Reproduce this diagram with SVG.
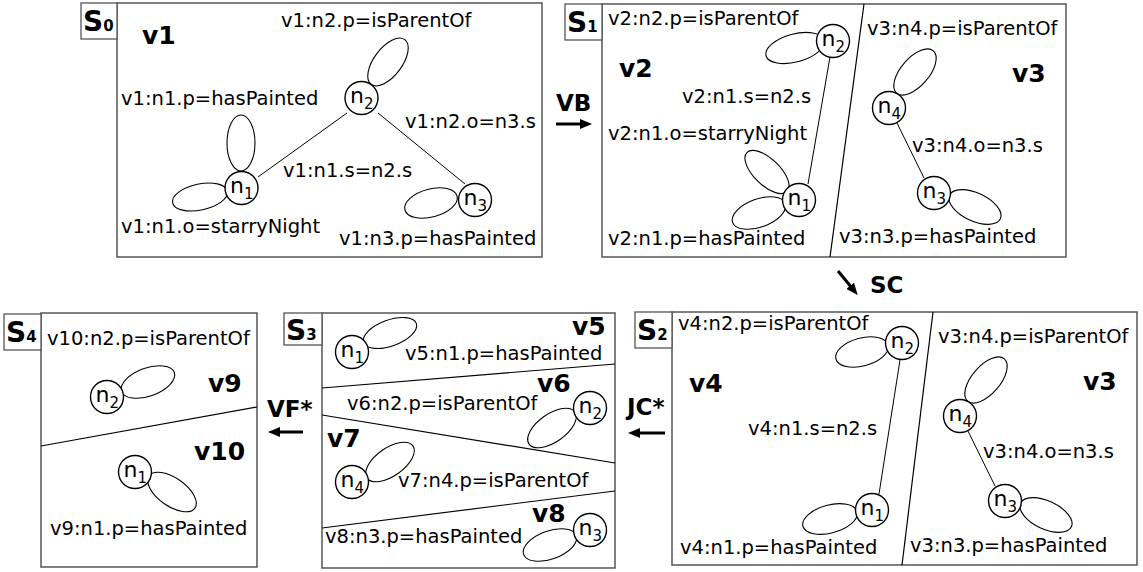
<svg xmlns="http://www.w3.org/2000/svg" width="1143" height="572" viewBox="0 0 1143 572">
<style>
.frame{fill:#fff;stroke:#555;stroke-width:1.5}
.lbl{fill:#fff;stroke:#555;stroke-width:1.3}
.t{font-family:"DejaVu Sans",sans-serif;font-size:19.5px;fill:#000}
.b{font-family:"DejaVu Sans",sans-serif;font-weight:bold;font-size:25px;fill:#000}
.sl{font-family:"DejaVu Sans",sans-serif;font-weight:bold;font-size:28px;fill:#000}
.sl tspan{font-size:15px}
.nc{fill:#fff;stroke:#000;stroke-width:1.4}
.nl{font-family:"DejaVu Sans",sans-serif;font-size:22px;fill:#000}
.nl tspan{font-size:15px}
.loop{fill:none;stroke:#000;stroke-width:1.1}
.edge{stroke:#000;stroke-width:1;fill:none}
.div{stroke:#000;stroke-width:1.2;fill:none}
.arr{stroke:#000;stroke-width:3;fill:none;marker-end:url(#ah)}
.at{font-family:"DejaVu Sans",sans-serif;font-weight:bold;font-size:23px;fill:#000}
</style>
<defs>
<marker id="ah" markerWidth="12" markerHeight="10" refX="3" refY="5" orient="auto" markerUnits="userSpaceOnUse"><path d="M0,0 L12,5 L0,10 z" fill="#000"/></marker>
</defs>
<rect width="1143" height="572" fill="#fff"/>

<!-- S0 -->
<g id="S0">
<rect class="frame" x="117" y="3" width="425" height="254"/>
<rect class="lbl" x="81" y="3" width="36" height="36"/>
<text class="sl" x="83" y="31">S<tspan>0</tspan></text>
<text class="b" x="142" y="44">v1</text>
<text class="t" x="281" y="27">v1:n2.p=isParentOf</text>
<text class="t" x="121" y="105">v1:n1.p=hasPainted</text>
<text class="t" x="405" y="128">v1:n2.o=n3.s</text>
<text class="t" x="283" y="177">v1:n1.s=n2.s</text>
<text class="t" x="121" y="233">v1:n1.o=starryNight</text>
<text class="t" x="339" y="245">v1:n3.p=hasPainted</text>
<line class="edge" x1="258" y1="177" x2="347" y2="113"/>
<line class="edge" x1="378" y1="113" x2="465" y2="184"/>
<ellipse class="loop" cx="241" cy="143" rx="14" ry="28"/>
<ellipse class="loop" cx="200" cy="197" rx="28" ry="13" transform="rotate(-12 200 197)"/>
<ellipse class="loop" cx="388" cy="62" rx="28" ry="14" transform="rotate(-53 388 62)"/>
<ellipse class="loop" cx="431" cy="203" rx="27" ry="14" transform="rotate(-15 431 203)"/>
<g id="S0-n1"><circle class="nc" cx="241.5" cy="188" r="16.5"/><text class="nl" x="230" y="193">n<tspan dy="6">1</tspan></text></g>
<g id="S0-n2"><circle class="nc" cx="361.5" cy="98" r="16.5"/><text class="nl" x="350" y="103">n<tspan dy="6">2</tspan></text></g>
<g id="S0-n3"><circle class="nc" cx="475" cy="200" r="16.5"/><text class="nl" x="463.5" y="205">n<tspan dy="6">3</tspan></text></g>
</g>

<!-- S1 -->
<g id="S1">
<rect class="frame" x="602" y="4" width="464" height="253"/>
<rect class="lbl" x="565" y="4" width="37" height="36"/>
<text class="sl" x="567" y="32">S<tspan>1</tspan></text>
<line class="div" x1="864" y1="4" x2="830" y2="257"/>
<text class="t" x="608" y="25">v2:n2.p=isParentOf</text>
<text class="b" x="619" y="77">v2</text>
<text class="t" x="682" y="103">v2:n1.s=n2.s</text>
<text class="t" x="608" y="140">v2:n1.o=starryNight</text>
<text class="t" x="608" y="245">v2:n1.p=hasPainted</text>
<line class="edge" x1="830" y1="57" x2="808" y2="184"/>
<ellipse class="loop" cx="795" cy="48" rx="30" ry="14" transform="rotate(-15 795 48)"/>
<ellipse class="loop" cx="767" cy="172" rx="28" ry="13" transform="rotate(44 767 172)"/>
<ellipse class="loop" cx="759" cy="213" rx="28" ry="14" transform="rotate(-20 759 213)"/>
<g id="S1-v2-n2"><circle class="nc" cx="833" cy="41" r="16.5"/><text class="nl" x="821.5" y="46">n<tspan dy="6">2</tspan></text></g>
<g id="S1-v2-n1"><circle class="nc" cx="799" cy="200" r="16.5"/><text class="nl" x="787.5" y="205">n<tspan dy="6">1</tspan></text></g>
<g id="S1-v3">
<text class="t" x="867" y="35">v3:n4.p=isParentOf</text>
<text class="b" x="1012" y="82">v3</text>
<text class="t" x="912" y="152">v3:n4.o=n3.s</text>
<text class="t" x="839" y="243">v3:n3.p=hasPainted</text>
<line class="edge" x1="897" y1="123" x2="924" y2="178"/>
<ellipse class="loop" cx="915" cy="72" rx="28" ry="14" transform="rotate(-49 915 72)"/>
<ellipse class="loop" cx="975" cy="207" rx="28" ry="14" transform="rotate(25 975 207)"/>
<g id="S1-v3-n4"><circle class="nc" cx="889" cy="108" r="16.5"/><text class="nl" x="877.5" y="113">n<tspan dy="6">4</tspan></text></g>
<g id="S1-v3-n3"><circle class="nc" cx="934" cy="193" r="16.5"/><text class="nl" x="922.5" y="198">n<tspan dy="6">3</tspan></text></g>
</g>
</g>

<!-- S2 -->
<g id="S2">
<rect class="frame" x="672" y="312" width="465" height="253"/>
<rect class="lbl" x="635" y="312" width="37" height="36"/>
<text class="sl" x="637" y="340">S<tspan>2</tspan></text>
<line class="div" x1="933" y1="312" x2="902" y2="565"/>
<text class="t" x="678" y="330">v4:n2.p=isParentOf</text>
<text class="b" x="689" y="392">v4</text>
<text class="t" x="748" y="435">v4:n1.s=n2.s</text>
<text class="t" x="680" y="554">v4:n1.p=hasPainted</text>
<line class="edge" x1="900" y1="360" x2="879" y2="494"/>
<ellipse class="loop" cx="862" cy="352" rx="27" ry="14" transform="rotate(-15 862 352)"/>
<ellipse class="loop" cx="830" cy="519" rx="28" ry="14" transform="rotate(-15 830 519)"/>
<g id="S2-v4-n2"><circle class="nc" cx="902" cy="343" r="16.5"/><text class="nl" x="890.5" y="348">n<tspan dy="6">2</tspan></text></g>
<g id="S2-v4-n1"><circle class="nc" cx="872" cy="510" r="16.5"/><text class="nl" x="860.5" y="515">n<tspan dy="6">1</tspan></text></g>
<g id="S2-v3" transform="translate(71 308)">
<text class="t" x="867" y="35">v3:n4.p=isParentOf</text>
<text class="b" x="1012" y="82">v3</text>
<text class="t" x="912" y="150">v3:n4.o=n3.s</text>
<text class="t" x="839" y="244">v3:n3.p=hasPainted</text>
<line class="edge" x1="897" y1="123" x2="924" y2="178"/>
<ellipse class="loop" cx="915" cy="72" rx="28" ry="14" transform="rotate(-49 915 72)"/>
<ellipse class="loop" cx="975" cy="207" rx="28" ry="14" transform="rotate(25 975 207)"/>
<g id="S2-v3-n4"><circle class="nc" cx="889" cy="108" r="16.5"/><text class="nl" x="877.5" y="113">n<tspan dy="6">4</tspan></text></g>
<g id="S2-v3-n3"><circle class="nc" cx="934" cy="193" r="16.5"/><text class="nl" x="922.5" y="198">n<tspan dy="6">3</tspan></text></g>
</g>
</g>

<!-- S3 -->
<g id="S3">
<rect class="frame" x="322" y="313" width="293" height="255"/>
<rect class="lbl" x="284" y="313" width="38" height="32"/>
<text class="sl" x="286" y="340">S<tspan>3</tspan></text>
<line class="div" x1="322" y1="388" x2="615" y2="364"/>
<line class="div" x1="322" y1="415" x2="615" y2="463"/>
<line class="div" x1="322" y1="528" x2="615" y2="491"/>
<text class="b" x="572" y="335">v5</text>
<text class="t" x="405" y="360">v5:n1.p=hasPainted</text>
<text class="b" x="537" y="392">v6</text>
<text class="t" x="347" y="410">v6:n2.p=isParentOf</text>
<text class="b" x="327" y="447">v7</text>
<text class="t" x="398" y="487">v7:n4.p=isParentOf</text>
<text class="b" x="532" y="522">v8</text>
<text class="t" x="325" y="543">v8:n3.p=hasPainted</text>
<ellipse class="loop" cx="390" cy="333" rx="28" ry="13" transform="rotate(-20 390 333)"/>
<ellipse class="loop" cx="552" cy="428" rx="28" ry="14" transform="rotate(-35 552 428)"/>
<ellipse class="loop" cx="390" cy="462" rx="28" ry="14" transform="rotate(-35 390 462)"/>
<ellipse class="loop" cx="550" cy="545" rx="28" ry="14" transform="rotate(-20 550 545)"/>
<g id="S3-v5-n1"><circle class="nc" cx="352" cy="352" r="16.5"/><text class="nl" x="340.5" y="357">n<tspan dy="6">1</tspan></text></g>
<g id="S3-v6-n2"><circle class="nc" cx="590" cy="408" r="16.5"/><text class="nl" x="578.5" y="413">n<tspan dy="6">2</tspan></text></g>
<g id="S3-v7-n4"><circle class="nc" cx="352" cy="482" r="16.5"/><text class="nl" x="340.5" y="487">n<tspan dy="6">4</tspan></text></g>
<g id="S3-v8-n3"><circle class="nc" cx="590" cy="530" r="16.5"/><text class="nl" x="578.5" y="535">n<tspan dy="6">3</tspan></text></g>
</g>

<!-- S4 -->
<g id="S4">
<rect class="frame" x="41" y="313" width="216" height="254"/>
<rect class="lbl" x="4" y="314" width="37" height="36"/>
<text class="sl" x="6" y="342">S<tspan>4</tspan></text>
<line class="div" x1="41" y1="446" x2="257" y2="407"/>
<text class="t" x="47" y="345">v10:n2.p=isParentOf</text>
<text class="b" x="208" y="392">v9</text>
<text class="b" x="194" y="460">v10</text>
<text class="t" x="50" y="535">v9:n1.p=hasPainted</text>
<ellipse class="loop" cx="148" cy="382" rx="28" ry="14" transform="rotate(-20 148 382)"/>
<ellipse class="loop" cx="172" cy="492" rx="28" ry="14" transform="rotate(35 172 492)"/>
<g id="S4-v9-n2"><circle class="nc" cx="107" cy="397" r="16.5"/><text class="nl" x="95.5" y="402">n<tspan dy="6">2</tspan></text></g>
<g id="S4-v10-n1"><circle class="nc" cx="135" cy="472" r="16.5"/><text class="nl" x="123.5" y="477">n<tspan dy="6">1</tspan></text></g>
</g>

<!-- connectors -->
<g id="connectors">
<g id="VB"><text class="at" x="556" y="111">VB</text><line class="arr" x1="556" y1="124" x2="583" y2="124"/></g>
<g id="SC"><line class="arr" x1="838" y1="271" x2="852" y2="288"/><text class="at" x="870" y="293">SC</text></g>
<g id="JC"><text class="at" x="627" y="415">JC*</text><line class="arr" x1="665" y1="433" x2="637" y2="433"/></g>
<g id="VF"><text class="at" x="267" y="417">VF*</text><line class="arr" x1="303" y1="432" x2="277" y2="432"/></g>
</g>
</svg>
